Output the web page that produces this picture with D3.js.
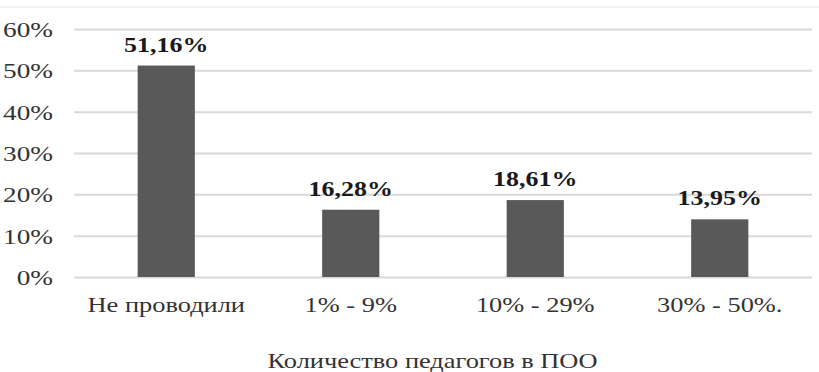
<!DOCTYPE html>
<html>
<head>
<meta charset="utf-8">
<script src="https://cdn.jsdelivr.net/npm/d3@7"></script>
<style>
  html, body { margin: 0; padding: 0; background: #fff; }
  svg { display: block; }
  text { font-family: "Liberation Serif", "Times New Roman", serif; }
</style>
</head>
<body>
<svg id="chart" width="819" height="372"></svg>
<script>
const categories = ["Не проводили", "1% - 9%", "10% - 29%", "30% - 50%."];
const values = [51.16, 16.28, 18.61, 13.95];
const valueLabels = ["51,16%", "16,28%", "18,61%", "13,95%"];
const yTicks = [0, 10, 20, 30, 40, 50, 60];
const xTitle = "Количество педагогов в ПОО";

(function () {
const svg = d3.select("#chart");
const W = 819, H = 372;
const mLeft = 74, mRight = 812, mTop = 29, mBottom = 277;
const SX = 1.2;

const x = d3.scaleBand().domain(categories).range([mLeft, mRight])
  .paddingInner(0.69).paddingOuter(0.345);
const y = d3.scaleLinear().domain([0, 60]).range([mBottom, mTop]);

// faint top border line
svg.append("line").attr("x1", 0).attr("x2", W).attr("y1", 7).attr("y2", 7)
  .attr("stroke", "#f0f0f0").attr("stroke-width", 1.5);

// gridlines
const yAxis = d3.axisLeft(y).tickValues(yTicks).tickSize(-(mRight - mLeft)).tickFormat(d => d + "%");
const gAxis = svg.append("g").attr("transform", `translate(${mLeft},0)`).call(yAxis);
gAxis.attr("font-family", null);
gAxis.select(".domain").remove();
gAxis.selectAll(".tick line").attr("stroke", "#d9d9d9").attr("stroke-width", 2);
gAxis.selectAll(".tick text")
  .attr("x", null).attr("dy", null)
  .attr("text-anchor", "end")
  .attr("font-size", 22)
  .attr("fill", "#333333")
  .attr("transform", `translate(-21,7.5) scale(1.24,1)`);

// bars
svg.append("g").selectAll("rect").data(values).join("rect")
  .attr("x", (d, i) => x(categories[i]))
  .attr("width", x.bandwidth())
  .attr("y", d => y(d))
  .attr("height", d => y(0) - y(d))
  .attr("fill", "#595959");

// value labels
svg.append("g").selectAll("text").data(values).join("text")
  .attr("transform", (d, i) => `translate(${x(categories[i]) + x.bandwidth() / 2},${y(d) - 14}) scale(1.18,1)`)
  .attr("text-anchor", "middle")
  .attr("font-size", 22)
  .attr("font-weight", "bold")
  .attr("fill", "#1a1a1a")
  .text((d, i) => valueLabels[i]);

// category labels
svg.append("g").selectAll("text").data(categories).join("text")
  .attr("transform", d => `translate(${x(d) + x.bandwidth() / 2},${mBottom + 35}) scale(${SX},1)`)
  .attr("text-anchor", "middle")
  .attr("font-size", 22)
  .attr("fill", "#333333")
  .text(d => d);

// x axis title
svg.append("text")
  .attr("transform", `translate(${(268 + 597) / 2},${368}) scale(${SX},1)`)
  .attr("text-anchor", "middle")
  .attr("font-size", 22)
  .attr("fill", "#333333")
  .text(xTitle);
})();
</script>
</body>
</html>
